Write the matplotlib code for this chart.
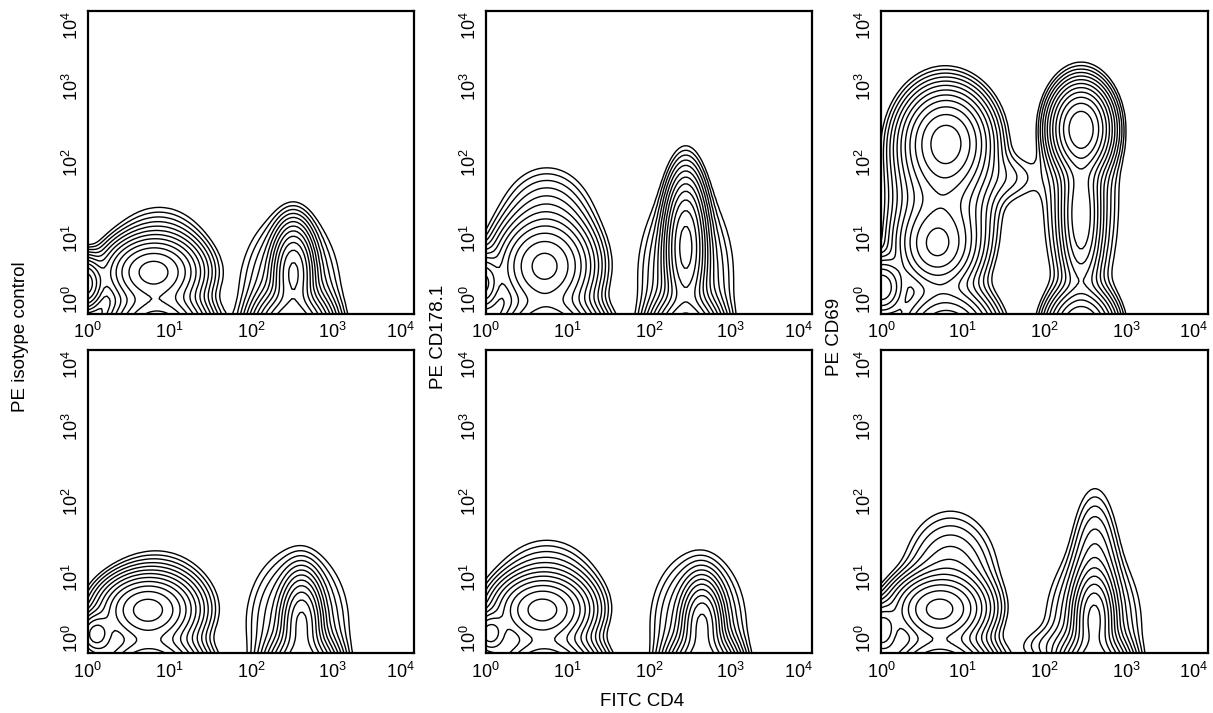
"""Flow cytometry contour panels: FITC CD4 vs PE isotype / CD178.1 / CD69."""
import matplotlib
matplotlib.use("Agg")
import matplotlib.pyplot as plt
import numpy as np

# populations as (log10 FITC centre, log10 PE centre, sd FITC, sd PE, weight)
ISO_TOP = [
    (0.80, 0.55, 0.28, 0.22, 1.00), (0.85, -0.25, 0.28, 0.25, 1.60),
    (0.88, 0.72, 0.30, 0.35, 0.10), (-0.05, 0.40, 0.12, 0.18, 0.60),
    (2.52, 0.55, 0.12, 0.30, 0.90), (2.50, -0.25, 0.22, 0.25, 1.80),
    (2.48, 0.35, 0.31, 0.50, 0.10),
]
CD178_TOP = [
    (0.72, 0.62, 0.28, 0.30, 1.00), (0.75, -0.30, 0.30, 0.25, 1.40),
    (0.75, 1.15, 0.30, 0.40, 0.10), (-0.05, 0.40, 0.12, 0.20, 0.50),
    (2.45, 0.90, 0.12, 0.45, 1.00), (2.45, -0.30, 0.20, 0.25, 1.50),
    (2.45, 0.50, 0.30, 0.60, 0.10),
]
CD69_TOP = [
    (0.80, 2.28, 0.26, 0.33, 1.00), (0.68, 0.90, 0.24, 0.28, 0.55),
    (0.75, 1.55, 0.30, 0.60, 0.30), (0.00, 0.35, 0.15, 0.20, 0.40),
    (0.80, -0.30, 0.28, 0.30, 0.80), (1.55, 1.80, 0.25, 0.20, 0.03),
    (2.45, 2.45, 0.18, 0.28, 1.20), (2.45, 1.30, 0.12, 0.50, 0.35),
    (2.45, -0.20, 0.20, 0.25, 0.80), (2.45, 1.50, 0.25, 0.80, 0.08),
]
ISO_BOTTOM = [
    (0.73, 0.57, 0.28, 0.22, 1.00), (0.75, -0.30, 0.30, 0.25, 1.50),
    (0.10, 0.25, 0.12, 0.15, 0.50), (0.85, 0.65, 0.33, 0.35, 0.10),
    (2.62, 0.40, 0.12, 0.30, 0.90), (2.62, -0.30, 0.20, 0.25, 1.80),
    (2.57, 0.40, 0.32, 0.50, 0.10),
]
CD178_BOTTOM = [
    (0.69, 0.57, 0.28, 0.22, 1.00), (0.72, -0.30, 0.30, 0.25, 1.50),
    (0.05, 0.26, 0.12, 0.15, 0.50), (0.75, 0.75, 0.33, 0.38, 0.10),
    (2.65, 0.38, 0.12, 0.28, 0.90), (2.65, -0.30, 0.20, 0.25, 1.80),
    (2.60, 0.40, 0.30, 0.48, 0.10),
]
CD69_BOTTOM = [
    (0.71, 0.58, 0.28, 0.22, 1.00), (0.72, -0.30, 0.30, 0.25, 1.50),
    (0.00, 0.30, 0.12, 0.18, 0.40), (0.85, 1.00, 0.30, 0.45, 0.10),
    (2.61, 0.45, 0.12, 0.30, 0.90), (2.61, -0.30, 0.20, 0.25, 1.80),
    (2.62, 1.10, 0.15, 0.55, 0.10), (2.60, 0.40, 0.30, 0.50, 0.10),
    (2.05, 0.10, 0.25, 0.15, 0.025),
]
PANELS = [ISO_TOP, CD178_TOP, CD69_TOP, ISO_BOTTOM, CD178_BOTTOM, CD69_BOTTOM]
Y_LABELS = ["PE isotype control", "PE CD178.1", "PE CD69"]
X_LABEL = "FITC CD4"
DECADES = [0, 1, 2, 3, 4]
LEVELS = np.geomspace(0.015, 0.9, 12)

plt.rcParams.update({
    "font.family": ["Liberation Sans", "DejaVu Sans"],
    "mathtext.fontset": "custom",
    "mathtext.rm": "Liberation Sans",
    "mathtext.it": "Liberation Sans",
})

fig = plt.figure(figsize=(12.13, 7.13), dpi=100)
lefts = [0.0723, 0.4004, 0.7263]
bottoms = [0.5596, 0.0837]
w, h = 0.2693, 0.4248

g = np.linspace(0, 4, 121)
U, V = np.meshgrid(g, g)

for i, comps in enumerate(PANELS):
    ax = fig.add_axes([lefts[i % 3], bottoms[i // 3], w, h])
    Z = np.zeros_like(U)
    for cu, cv, su, sv, wt in comps:
        Z += wt * np.exp(-0.5 * ((U - cu) / su) ** 2 - 0.5 * ((V - cv) / sv) ** 2)
    ax.contour(10 ** U, 10 ** V, Z, levels=LEVELS, colors="black", linewidths=1.0)
    ax.set_xscale("log")
    ax.set_yscale("log")
    ax.set_xlim(1, 1e4)
    ax.set_ylim(1, 1e4)
    ticks = [10.0 ** d for d in DECADES]
    labels = [r"$\mathregular{10^{%d}}$" % d for d in DECADES]
    ax.set_xticks(ticks)
    ax.set_xticklabels(labels)
    ax.set_yticks(ticks)
    ax.set_yticklabels(labels, rotation=90, va="center")
    ax.minorticks_off()
    ax.tick_params(length=0, labelsize=13)
    ax.tick_params(axis="x", pad=6)
    ax.tick_params(axis="y", pad=4)
    xt = ax.get_xticklabels()
    xt[-1].set_ha("right")
    yt = ax.get_yticklabels()
    yt[-1].set_va("top")
    yt[0].set_va("bottom")
    for s in ax.spines.values():
        s.set_linewidth(1.6)

for x, lab in zip([0.0165, 0.3611, 0.6876], Y_LABELS):
    fig.text(x, 0.528, lab, rotation=90, ha="center", va="center", fontsize=13.5)
fig.text(0.5297, 0.016, X_LABEL, ha="center", va="center", fontsize=13.5)

fig.savefig("out.png", dpi=100)
